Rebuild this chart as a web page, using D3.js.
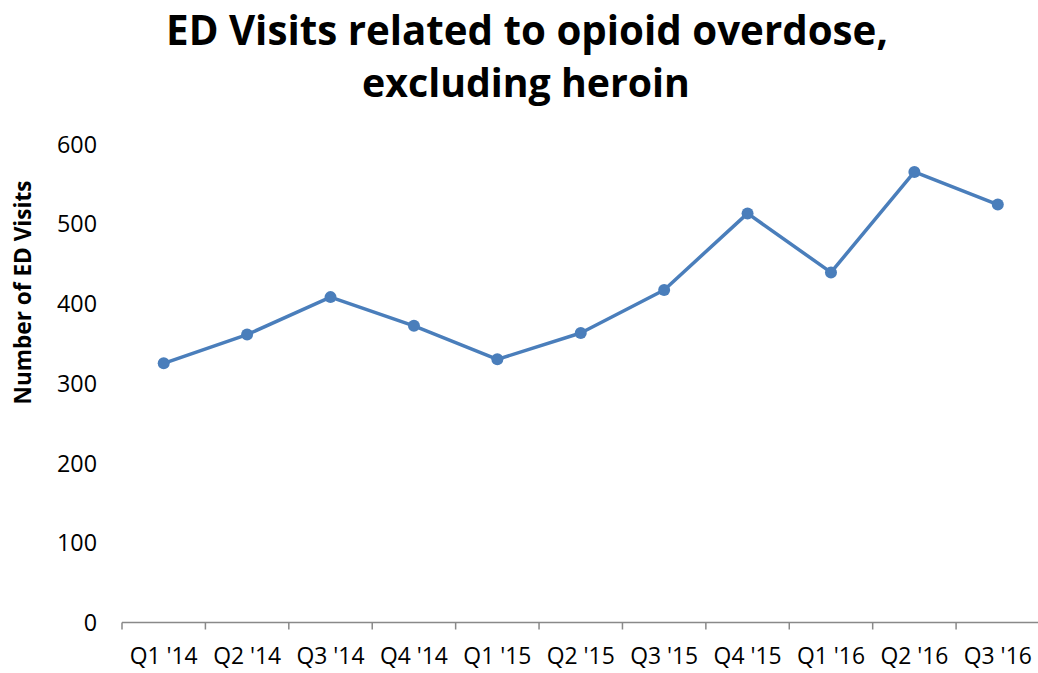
<!DOCTYPE html>
<html><head><meta charset="utf-8">
<script src="https://cdn.jsdelivr.net/npm/d3@7"></script>
<style>
html,body{margin:0;padding:0;background:#fff;}
svg{display:block;font-family:"Open Sans",sans-serif;}
</style></head>
<body>
<svg id="c" width="1038" height="673"></svg>
<script>
const categories = ["Q1 '14","Q2 '14","Q3 '14","Q4 '14","Q1 '15","Q2 '15","Q3 '15","Q4 '15","Q1 '16","Q2 '16","Q3 '16"];
const visits = [325, 361, 408, 372, 330, 363, 417, 513, 439, 565, 524];
const yTicks = [0, 100, 200, 300, 400, 500, 600];
const titleLines = ["ED Visits related to opioid overdose,", "excluding heroin"];
const yTitle = "Number of ED Visits";

const svg = d3.select("#c");
const plotLeft = 122, plotRight = 1039.5, plotTop = 144, plotBottom = 622.5;

const x = d3.scaleBand().domain(categories).range([plotLeft, plotRight]).paddingInner(0).paddingOuter(0);
const y = d3.scaleLinear().domain([0, 600]).range([plotBottom, plotTop]);

function fit(t, w){ const l = t.node().getComputedTextLength(); const fs = +t.attr("font-size"); t.attr("font-size", fs * w / l); return fs * w / l; }

// title
const tl = svg.append("g").attr("font-weight", "bold").attr("fill", "#000").attr("text-anchor", "middle");
const t1 = tl.append("text").attr("x", 527).attr("y", 45).attr("font-size", 38).text(titleLines[0]);
const t2 = tl.append("text").attr("x", 526).attr("y", 97).attr("font-size", 38).text(titleLines[1]);
fit(t1, 722); fit(t2, 328);

// measure label sizes
const probe = svg.append("text").attr("font-size", 20).text("Q1 '14");
const xFs = fit(probe, 68);
probe.attr("font-size", 20).text("600");
const yFs = fit(probe, 40);
probe.remove();

// y axis (labels only)
const yAxis = d3.axisLeft(y).tickValues(yTicks).tickSize(0).tickPadding(0).tickFormat(d3.format("d"));
const ya = svg.append("g").attr("transform", "translate(97,0)").call(yAxis);
ya.select(".domain").remove();
ya.selectAll("text").attr("font-size", yFs).attr("fill", "#000").attr("font-family", "'Open Sans',sans-serif").attr("dy", "0.35em");

// x axis
const xAxis = d3.axisBottom(x).tickSize(0).tickPadding(0);
const xa = svg.append("g").attr("transform", `translate(0,${plotBottom})`).call(xAxis);
xa.select(".domain").attr("stroke", "#898989").attr("stroke-width", 1.5).attr("d", `M${plotLeft},0H${plotRight}`);
xa.selectAll("text").attr("font-size", xFs).attr("fill", "#000").attr("font-family", "'Open Sans',sans-serif").attr("dy", 0).attr("y", 41);
// tick marks between categories
const bounds = categories.map(c => x(c)).concat([plotRight]);
xa.selectAll(".sep").data(bounds).enter().append("line").attr("class", "sep")
  .attr("x1", d => d).attr("x2", d => d).attr("y1", 0).attr("y2", 7)
  .attr("stroke", "#898989").attr("stroke-width", 1.5);

// y title
const yt = svg.append("text").attr("transform", "translate(31,292.5) rotate(-90)").attr("text-anchor", "middle")
  .attr("font-weight", "bold").attr("font-size", 18.5).attr("fill", "#000").text(yTitle);
fit(yt, 224);

// line
const cx = d => x(d) + x.bandwidth() / 2;
const line = d3.line().x((d, i) => cx(categories[i])).y(d => y(d));
svg.append("path").datum(visits).attr("d", line).attr("fill", "none")
  .attr("stroke", "#4a7ebb").attr("stroke-width", 3.5).attr("stroke-linejoin", "round");
svg.selectAll(".pt").data(visits).enter().append("circle").attr("class", "pt")
  .attr("cx", (d, i) => cx(categories[i])).attr("cy", d => y(d)).attr("r", 6).attr("fill", "#4a7ebb");
</script>
</body></html>
